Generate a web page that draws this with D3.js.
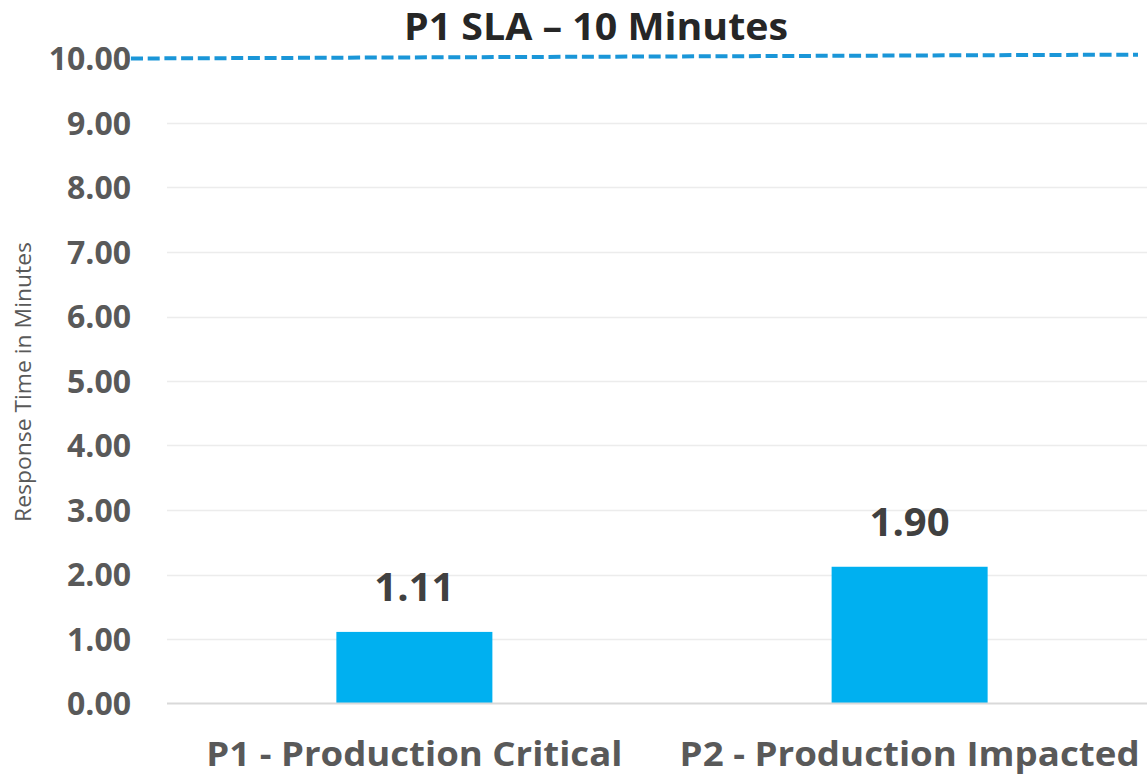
<!DOCTYPE html>
<html><head><meta charset="utf-8">
<script src="https://cdn.jsdelivr.net/npm/d3@7/dist/d3.min.js"></script>
<style>body{margin:0;background:#fff;}svg{display:block;font-family:"Open Sans","Noto Sans",sans-serif;}</style>
</head><body>
<svg id="c" width="1147" height="778"></svg>
<script>
const categories = ["P1 - Production Critical", "P2 - Production Impacted"];
const barValues = [1.11, 2.12];
const labelTexts = ["1.11", "1.90"];
const yTicks = [0, 1, 2, 3, 4, 5, 6, 7, 8, 9, 10];
const slaLevels = [10, 10.06];
const titleText = "P1 SLA \u2013 10 Minutes";
const yAxisTitle = "Response Time in Minutes";

const svg = d3.select("#c");
const y = d3.scaleLinear().domain([0, 10]).range([703.5, 58.5]);
const x = d3.scaleBand().domain(categories).range([167, 1157]).paddingInner(0.685).paddingOuter(0.342);

// gridlines
svg.append("g").selectAll("line").data(yTicks.filter(d => d > 0 && d < 10)).join("line")
  .attr("x1", 167).attr("x2", 1147)
  .attr("y1", d => Math.round(y(d)) + 0.5).attr("y2", d => Math.round(y(d)) + 0.5)
  .attr("stroke", "#ececec").attr("stroke-width", 1.5);

// y axis labels
const yAxis = d3.axisLeft(y).tickValues(yTicks).tickFormat(d3.format(".2f")).tickSize(0).tickPadding(0);
const ga = svg.append("g").attr("transform", "translate(131,0)").call(yAxis);
ga.select(".domain").remove();
ga.selectAll("text").attr("font-size", 32).attr("font-weight", "bold").attr("fill", "#595959")
  .attr("font-family", "'Open Sans',sans-serif").attr("dy", "0.35em");

// bars
svg.append("g").selectAll("rect").data(categories).join("rect")
  .attr("x", d => x(d)).attr("width", x.bandwidth())
  .attr("y", (d, i) => y(barValues[i])).attr("height", (d, i) => y(0) - y(barValues[i]))
  .attr("fill", "#00b0f0");

// baseline
svg.append("line").attr("x1", 167).attr("x2", 1147).attr("y1", 703.5).attr("y2", 703.5)
  .attr("stroke", "#d9d9d9").attr("stroke-width", 2);

// data labels
svg.append("g").selectAll("text").data(categories).join("text")
  .attr("x", d => x(d) + x.bandwidth() / 2).attr("y", (d, i) => y(barValues[i]) - 31)
  .attr("text-anchor", "middle").attr("font-size", 40).attr("font-weight", "bold").attr("fill", "#404040")
  .text((d, i) => labelTexts[i]);

// category labels
const catWidths = [416, 460];
svg.append("g").selectAll("text").data(categories).join("text")
  .attr("x", d => x(d) + x.bandwidth() / 2).attr("y", 766)
  .attr("text-anchor", "middle").attr("font-size", 34).attr("font-weight", "bold").attr("fill", "#595959")
  .attr("textLength", (d, i) => catWidths[i]).attr("lengthAdjust", "spacingAndGlyphs")
  .text(d => d);

// SLA dashed line
svg.append("line").attr("x1", 131).attr("x2", 1138)
  .attr("y1", y(slaLevels[0])).attr("y2", y(slaLevels[1]))
  .attr("stroke", "#1a96d8").attr("stroke-width", 4).attr("stroke-dasharray", "12,4.7");

// title
svg.append("text").attr("x", 596).attr("y", 40).attr("text-anchor", "middle")
  .attr("font-size", 38).attr("font-weight", "bold").attr("fill", "#262626")
  .attr("textLength", 384).attr("lengthAdjust", "spacingAndGlyphs").text(titleText);

// y axis title
svg.append("text").attr("transform", "translate(31,382) rotate(-90)").attr("text-anchor", "middle")
  .attr("font-size", 21).attr("fill", "#595959")
  .attr("textLength", 280).attr("lengthAdjust", "spacingAndGlyphs").text(yAxisTitle);
</script>
</body></html>
